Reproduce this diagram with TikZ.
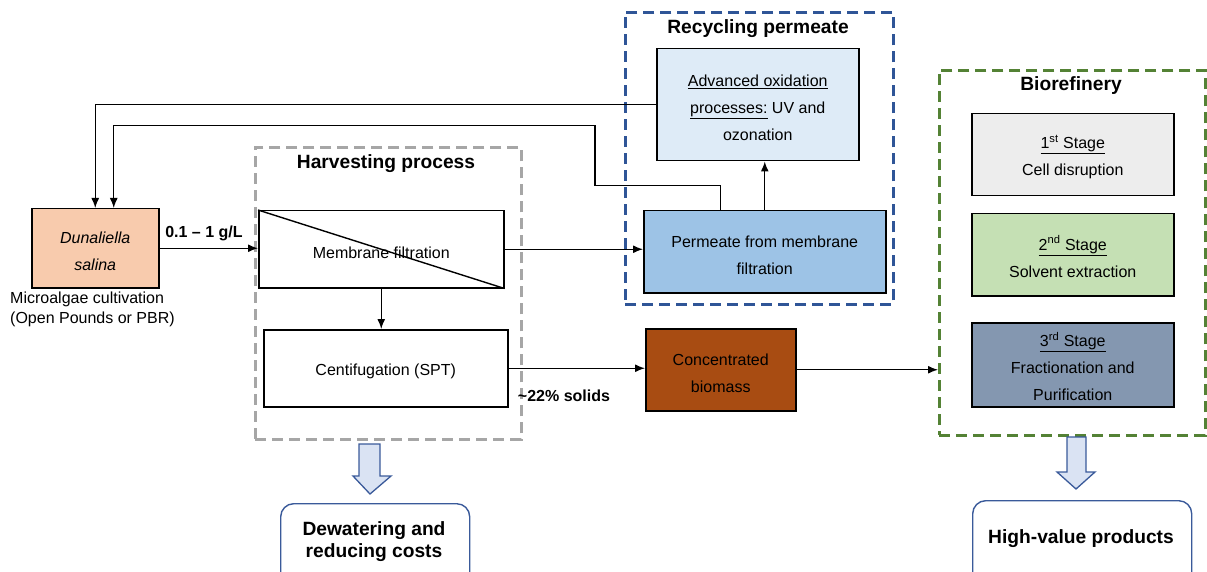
\documentclass[tikz,border=0pt]{standalone}
\usepackage{fontspec}
\setmainfont{Liberation Sans}
\usetikzlibrary{arrows.meta}
\definecolor{peach}{HTML}{F8CBAD}
\definecolor{brown}{HTML}{A84C12}
\definecolor{aopfill}{HTML}{DEEBF7}
\definecolor{permfill}{HTML}{9DC3E6}
\definecolor{s1fill}{HTML}{EDEDED}
\definecolor{s2fill}{HTML}{C5E0B4}
\definecolor{s3fill}{HTML}{8497B0}
\definecolor{dgray}{HTML}{A6A6A6}
\definecolor{dblue}{HTML}{2F5597}
\definecolor{dgreen}{HTML}{548235}
\definecolor{barrowfill}{HTML}{DAE3F3}
\definecolor{barrowline}{HTML}{3A5A9A}
\newcommand{\dstrut}{\rule{0pt}{18pt}}
\begin{document}
\begin{tikzpicture}[x=1pt,y=-1pt,
  box/.style={draw=black, line width=1.5pt, inner sep=0pt, align=center, anchor=north west,
    font=\fontsize{16}{27}\selectfont},
  frame/.style={line width=2.6pt, dash pattern=on 11pt off 6pt, anchor=north west, inner sep=0pt},
  title/.style={font=\fontsize{19.2}{22}\selectfont\bfseries},
  lbl/.style={font=\fontsize{16}{20}\selectfont\bfseries},
  arr/.style={line width=1.4pt, -{Latex[length=10pt,width=8pt]}},
  ln/.style={line width=1.4pt},
  barrow/.style={draw=barrowline, fill=barrowfill, line width=1.3pt, line join=miter},
  rbox/.style={draw=barrowline, line width=1.4pt, rounded corners=13pt, anchor=north west, inner sep=0pt},
  rtext/.style={align=center, font=\fontsize{19.2}{22}\selectfont\bfseries}
]
\useasboundingbox (0,0) rectangle (1207,572);
\clip (0,0) rectangle (1207,572);

% Frames
\node[frame, draw=dgray, minimum width=266pt, minimum height=292pt] (harv) at (254,146) {};
\node[title] (harvt) at (386,164) {Harvesting process};
\node[frame, draw=dblue, minimum width=268pt, minimum height=292pt] (recy) at (624,11) {};
\node[title] (recyt) at (758,29) {Recycling permeate};
\node[frame, draw=dgreen, minimum width=266pt, minimum height=365pt] (bio) at (938,69) {};
\node[title] (biot) at (1071,86) {Biorefinery};

% Boxes
\node[box, fill=peach, minimum width=127pt, minimum height=79pt] (dun) at (31,208)
  {\dstrut\itshape Dunaliella\\\itshape salina};
\node[anchor=north west, align=left, inner sep=0pt, font=\fontsize{16}{20}\selectfont] (cult) at (10,292)
  {Microalgae cultivation\\(Open Pounds or PBR)};
\node[box, minimum width=245pt, minimum height=77pt] (mem) at (258,210) {\dstrut Membrane filtration};
\draw[ln] (mem.north west) -- (mem.south east);
\node[box, minimum width=244pt, minimum height=77pt] (cent) at (263,329) {\dstrut Centifugation (SPT)};
\node[box, fill=brown, minimum width=150pt, minimum height=82pt] (conc) at (645,328) {\dstrut Concentrated\\biomass};
\node[box, fill=aopfill, minimum width=202pt, minimum height=112pt] (aop) at (656,48)
  {\dstrut\underline{Advanced oxidation}\\\underline{processes:} UV and\\ozonation};
\node[box, fill=permfill, minimum width=242pt, minimum height=82pt] (perm) at (643,210)
  {\dstrut Permeate from membrane\\filtration};
\node[box, fill=s1fill, minimum width=202pt, minimum height=82pt] (s1) at (971,113)
  {\dstrut\underline{1\textsuperscript{st} Stage}\\Cell disruption};
\node[box, fill=s2fill, minimum width=202pt, minimum height=82pt] (s2) at (971,213)
  {\dstrut\underline{2\textsuperscript{nd} Stage}\\Solvent extraction};
\node[box, fill=s3fill, minimum width=202pt, minimum height=84pt] (s3) at (971,322)
  {\dstrut\underline{3\textsuperscript{rd} Stage}\\Fractionation and\\Purification};

% Bottom boxes
\node[rbox, minimum width=189pt, minimum height=90pt] (dew) at (280,503) {};
\node[rtext] (dewt) at (374,542) {Dewatering and\\reducing costs};
\node[rbox, minimum width=219pt, minimum height=90pt] (hvp) at (972,500) {};
\node[rtext] (hvpt) at (1081,539) {High-value products};

% Block arrows
\draw[barrow] (359,444) -- (380,444) -- (380,476) -- (391,476) -- (370,494) -- (353,476) -- (359,476) -- cycle;
\draw[barrow] (1067,437) -- (1086,437) -- (1086,472) -- (1095,472) -- (1076,489) -- (1057,472) -- (1067,472) -- cycle;

% Connectors
\draw[arr] (dun.east) -- (dun.east -| mem.west);
\node[lbl] (l1) at (204,233) {0.1 – 1 g/L};
\draw[arr] (mem.south) -- (mem.south |- cent.north);
\draw[arr] (cent.east) -- (cent.east -| conc.west);
\node[lbl] (l2) at (564,396) {\char"007E 22\% solids};
\draw[arr] (conc.east) -- (conc.east -| bio.west);
\draw[arr] (mem.east) -- (mem.east -| perm.west);
\draw[arr] (perm.north) -- (perm.north |- aop.south);
\draw[arr] (aop.west) -| (dun.north);
\coordinate (k1) at (595,185.5);
\coordinate (k2) at (595,125.5);
\draw[arr] ([xshift=-44pt]perm.north) |- (k1) -- (k2) -| ([xshift=18.5pt]dun.north);
\end{tikzpicture}
\end{document}
